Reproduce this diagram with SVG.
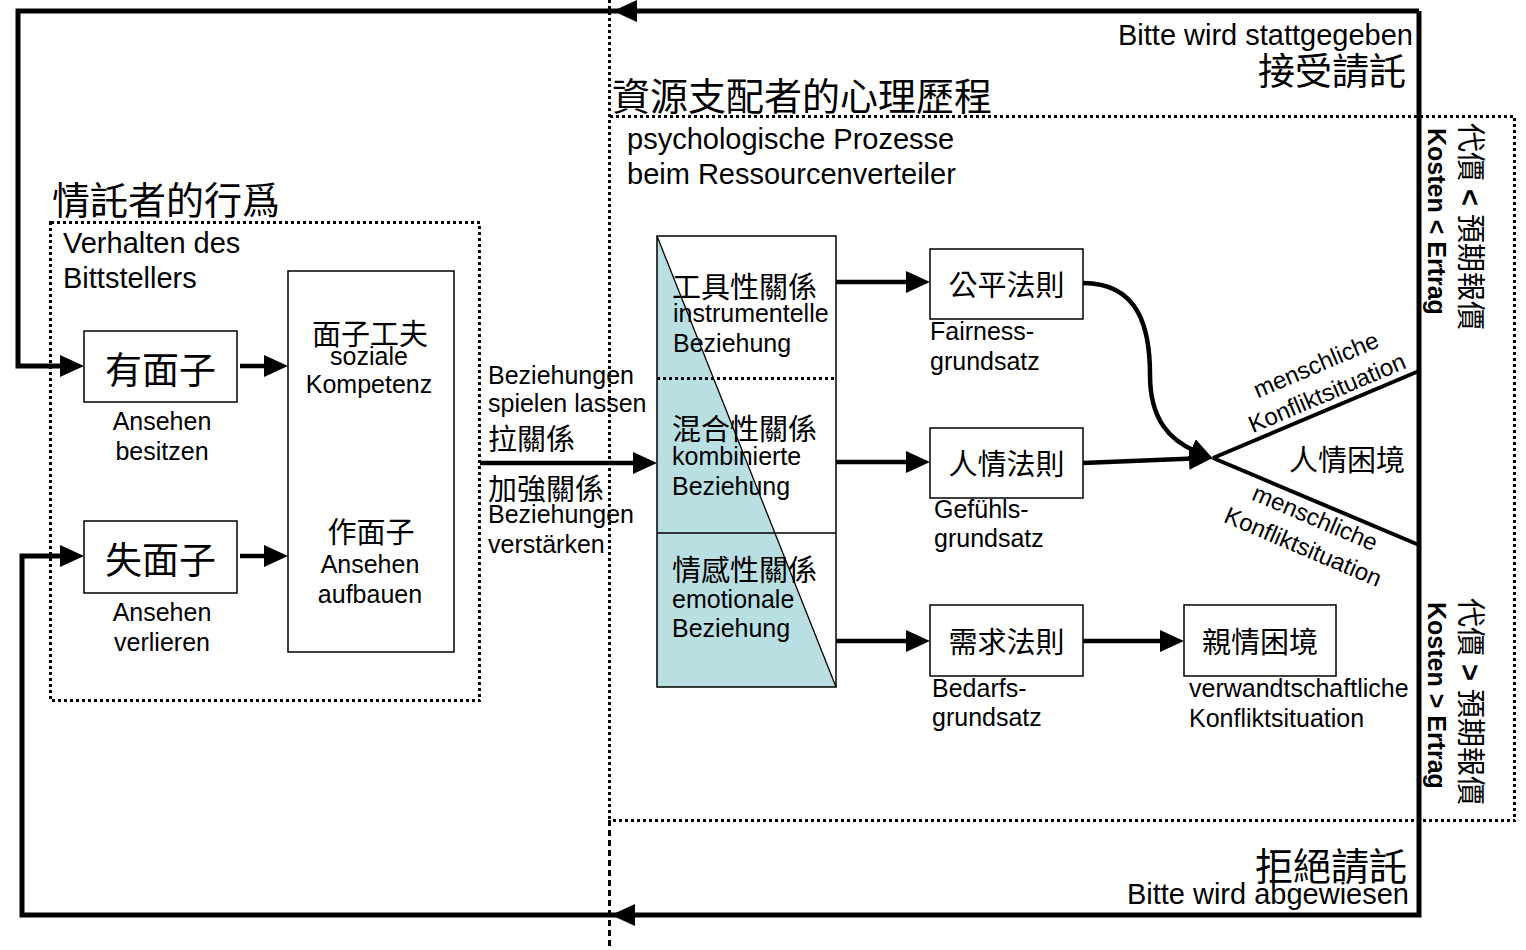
<svg xmlns="http://www.w3.org/2000/svg" width="1526" height="950" viewBox="0 0 1526 950">
<style>
text{font-family:"Liberation Sans","Noto Sans CJK TC",sans-serif;fill:#000}
.s{font-size:25px}
.m{font-size:29px}
.k29{font-size:29px}
.k37{font-size:37px}
.mid{text-anchor:middle}
.end{text-anchor:end}
.b{font-weight:bold}
.box{fill:#fff;stroke:#000;stroke-width:1.5}
.dot{fill:none;stroke:#000;stroke-width:3;stroke-dasharray:3 3;shape-rendering:crispEdges}
.dash{fill:none;stroke:#000;stroke-width:3;stroke-dasharray:6 4;shape-rendering:crispEdges}
.line{fill:none;stroke:#000;stroke-width:5;stroke-linejoin:miter}
.arr{fill:none;stroke:#000;stroke-width:4.5;marker-end:url(#ah)}
.thin{fill:none;stroke:#000;stroke-width:1.3}
</style>
<defs>
<marker id="ah" markerUnits="userSpaceOnUse" markerWidth="24" markerHeight="22" refX="4" refY="11" orient="auto">
<path d="M0,0 L24,11 L0,22 z" fill="#000"/>
</marker>
</defs>
<rect width="1526" height="950" fill="#fff"/>

<g id="frames">
<rect class="dot" x="50.5" y="222.5" width="429" height="478"/>
<path class="dot" d="M609.5,0 V820"/>
<path class="dash" d="M609.5,820 V950"/>
<path class="dot" d="M609.5,116.5 H1514.5 V820.5 H609.5"/>
</g>

<g id="connectors">
<path class="line" d="M1419,11 H18 V366 H64" marker-end="url(#ah)"/>
<path class="line" d="M1419,11 V915 H22 V556 H64" marker-end="url(#ah)"/>
<polygon points="613,11 637,0 637,22" fill="#000"/>
<polygon points="611,915 635,904 635,926" fill="#000"/>
<path class="arr" d="M240,366 H268"/>
<path class="arr" d="M240,556 H268"/>
<path class="arr" d="M480,463 H637"/>
<path class="arr" d="M836,282 H910"/>
<path class="arr" d="M836,462 H910"/>
<path class="arr" d="M836,641 H910"/>
<path class="arr" d="M1083,641 H1164"/>
<path class="arr" d="M1083,283 C1140,283 1150,330 1150,375 C1150,420 1170,440 1195,451"/>
<path class="arr" d="M1083,463 L1193,458.5"/>
<path class="line" style="stroke-width:4" d="M1213,458 L1419,371"/>
<path class="line" style="stroke-width:4" d="M1213,458 L1419,545"/>
</g>

<g id="labels-outcome">
<text class="end" x="1413" y="45" style="font-size:29px">Bitte wird stattgegeben</text>
<text class="end k37" x="1406" y="85">接受請託</text>
<text class="end" x="1407" y="880" style="font-size:38px">拒絕請託</text>
<text class="end" x="1409" y="904" style="font-size:29px">Bitte wird abgewiesen</text>
</g>

<g id="petitioner">
<text x="52" y="214" style="font-size:38px">情託者的行爲</text>
<text class="m" x="63" y="253">Verhalten des</text>
<text class="m" x="63" y="288">Bittstellers</text>
</g>

<g id="distributor">
<text x="612" y="110" style="font-size:38px">資源支配者的心理歷程</text>
<text class="m" x="627" y="149">psychologische Prozesse</text>
<text class="m" x="627" y="184">beim Ressourcenverteiler</text>
</g>

<g id="node-youmianzi">
<rect class="box" x="84" y="331" width="153" height="71"/>
<text class="k37 mid" x="160.5" y="384">有面子</text>
<text class="s mid" x="162" y="430">Ansehen</text>
<text class="s mid" x="162" y="460">besitzen</text>
</g>

<g id="node-shimianzi">
<rect class="box" x="84" y="521" width="153" height="72"/>
<text class="k37 mid" x="160.5" y="574">失面子</text>
<text class="s mid" x="162" y="621">Ansehen</text>
<text class="s mid" x="162" y="651">verlieren</text>
</g>

<g id="node-mianzigongfu">
<rect class="box" x="288" y="271" width="166" height="381"/>
<text class="k29 mid" x="370" y="345">面子工夫</text>
<text class="s mid" x="369" y="365">soziale</text>
<text class="s mid" x="369" y="393">Kompetenz</text>
<text class="k29 mid" x="371" y="543">作面子</text>
<text class="s mid" x="370" y="573">Ansehen</text>
<text class="s mid" x="370" y="603">aufbauen</text>
</g>

<g id="label-guanxi">
<text class="s" x="488" y="384">Beziehungen</text>
<text class="s" x="488" y="412">spielen lassen</text>
<text class="k29" x="488" y="450">拉關係</text>
<text class="k29" x="488" y="500">加強關係</text>
<text class="s" x="488" y="523">Beziehungen</text>
<text class="s" x="488" y="553">verstärken</text>
</g>

<g id="node-relations">
<polygon points="657,236 836,687 657,687" fill="#b9dfe2"/>
<line class="thin" x1="657" y1="236" x2="836" y2="687"/>
<rect x="657" y="236" width="179" height="451" fill="none" stroke="#000" stroke-width="1.5"/>
<line class="dot" x1="657" y1="378.5" x2="836" y2="378.5"/>
<line class="thin" x1="657" y1="533" x2="836" y2="533"/>
<text class="k29" x="672" y="298">工具性關係</text>
<text class="s" x="673" y="322">instrumentelle</text>
<text class="s" x="673" y="352">Beziehung</text>
<text class="k29" x="672" y="440">混合性關係</text>
<text class="s" x="672" y="465">kombinierte</text>
<text class="s" x="672" y="495">Beziehung</text>
<text class="k29" x="672" y="581">情感性關係</text>
<text class="s" x="672" y="608">emotionale</text>
<text class="s" x="672" y="637">Beziehung</text>
</g>

<g id="node-gongping">
<rect class="box" x="930" y="249" width="153" height="70"/>
<text class="k29 mid" x="1006.5" y="296">公平法則</text>
<text class="s" x="930" y="340">Fairness-</text>
<text class="s" x="930" y="370">grundsatz</text>
</g>

<g id="node-renqing">
<rect class="box" x="930" y="428" width="153" height="70"/>
<text class="k29 mid" x="1006.5" y="475">人情法則</text>
<text class="s" x="934" y="518">Gefühls-</text>
<text class="s" x="934" y="547">grundsatz</text>
</g>

<g id="node-xuqiu">
<rect class="box" x="930" y="605" width="153" height="71"/>
<text class="k29 mid" x="1006.5" y="653">需求法則</text>
<text class="s" x="932" y="697">Bedarfs-</text>
<text class="s" x="932" y="726">grundsatz</text>
</g>

<g id="node-qinqing">
<rect class="box" x="1184" y="605" width="152" height="71"/>
<text class="k29 mid" x="1260" y="653">親情困境</text>
<text class="s" x="1189" y="697">verwandtschaftliche</text>
<text class="s" x="1189" y="727">Konfliktsituation</text>
</g>

<g id="node-renqingkunjing">
<text class="k29 mid" x="1347" y="471">人情困境</text>
<text class="mid" style="font-size:24px" transform="translate(1316,365) rotate(-23)" y="8">menschliche</text>
<text class="mid" style="font-size:24px" transform="translate(1327,393) rotate(-23)" y="8">Konfliktsituation</text>
<text class="mid" style="font-size:24px" transform="translate(1315,518) rotate(23)" y="8">menschliche</text>
<text class="mid" style="font-size:24px" transform="translate(1303,547) rotate(23)" y="8">Konfliktsituation</text>
</g>

<g id="cost-labels">
<text style="font-size:29px" transform="translate(1460,123) rotate(90)">代價 <tspan class="b">&lt;</tspan> 預期報價</text>
<text class="b" style="font-size:25px" transform="translate(1428,128) rotate(90)">Kosten &lt; Ertrag</text>
<text style="font-size:29px" transform="translate(1460,598) rotate(90)">代價 <tspan class="b">&gt;</tspan> 預期報價</text>
<text class="b" style="font-size:25px" transform="translate(1428,602) rotate(90)">Kosten &gt; Ertrag</text>
</g>
</svg>
